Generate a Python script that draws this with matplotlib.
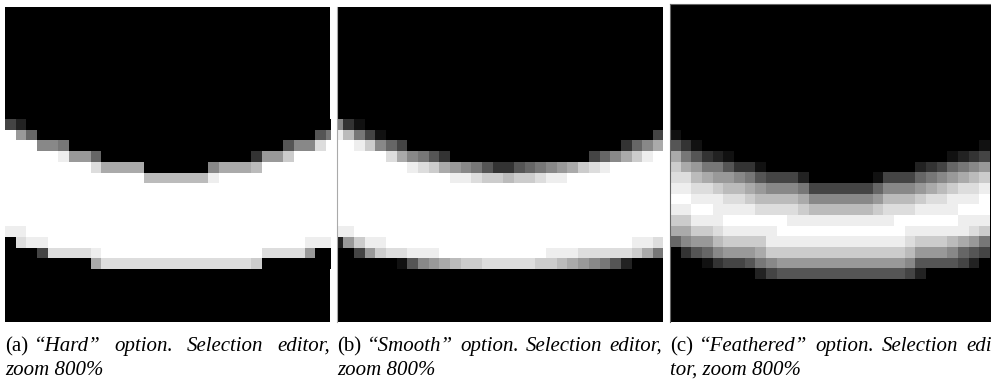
import numpy as np
import matplotlib
matplotlib.use('Agg')
import matplotlib.pyplot as plt

# Figure size in pixels
W, H = 991, 381
# One zoomed image pixel on screen (800% zoom, screenshot scaled)
CELL = 32 / 3
# y of the first row that is not black
ROW0 = 119.33

# Grey levels, one hex digit per pixel (0 = black, f = white).
# Rows above/below are black.
hard_rows = [
    "42" + "0" * 29,
    "f96" + "0" * 26 + "57",
    "fff887" + "0" * 20 + "588df",
    "fffffe996" + "0" * 14 + "399cffff",
    "ffffffffdaaaa0000008aaabfffffff",
    "f" * 13 + "b" * 6 + "e" + "f" * 11,
    "f" * 31,
    "f" * 31,
    "f" * 31,
    "f" * 31,
    "eef" + "f" * 28,
    "0dee" + "f" * 24 + "eee",
    "0004dddde" + "f" * 15 + "dddd900",
    "00000000a" + "d" * 14 + "c" + "0" * 7,
]

smooth_rows = [
    "831" + "0" * 28,
    "eb741" + "0" * 25 + "4",
    "ffec864" + "0" * 20 + "368a",
    "ffff" + "fda8753" + "0" * 13 + "468acef",
    "ffffff" + "fedca98753356789acdef" + "ffff",
    "f" * 10 + "feedccbccdeeff" + "f" * 7,
    "f" * 31,
    "f" * 31,
    "f" * 31,
    "f" * 31,
    "eef" + "f" * 28,
    "29cee" + "f" * 22 + "feed",
    "0049cddeee" + "f" * 10 + "eeedddddca7",
    "000000" + "1589abcc" + "ddddd" + "ccba98752" + "000",
]

feathered_rows = [
    "0" * 30,
    "1" + "0" * 29,
    "531" + "0" * 26 + "1",
    "a75321" + "0" * 20 + "1234",
    "ca9775331" + "0" * 14 + "2346789",
    "ddba998754442" + "000000" + "1444" + "6789abc",
    "eeddcbba98887" + "444444" + "6888" + "9abcdde",
    "ffeeeddcbbbba" + "888888" + "9bbb" + "cddeeef",
    "eeffeeeeddddc" + "bbbbbb" + "cddd" + "eeeefff",
    "cceeeffffffe" + "e" * 9 + "f" * 6 + "eee",
    "aaccdeeeeef" + "f" * 11 + "eeeee" + "edc",
    "6899bcccce" + "e" * 12 + "dcccba97",
    "03568999ac" + "c" * 12 + "b9998654",
    "0001344578" + "9" * 12 + "85555420",
    "0000000024" + "5" * 12 + "42000000",
]

labels = ["(a)", "(b)", "(c)"]
first_lines = [
    ["\u201cHard\u201d", "option.", "Selection", "editor,"],
    ["\u201cSmooth\u201d", "option.", "Selection", "editor,"],
    ["\u201cFeathered\u201d", "option.", "Selection", "edi-"],
]
second_lines = ["zoom 800%", "zoom 800%", "tor, zoom 800%"]

FONT = 'Liberation Serif'
SIZE = 15


def to_grid(rows):
    return np.array([[int(ch, 16) * 17 for ch in r] for r in rows])


def px_text(x, y, s, **kw):
    return fig.text(x / W, 1 - y / H, s, va='baseline', family=FONT,
                    fontsize=SIZE, color='black', **kw)


def justified(label, words, left, right, y, label_gap=6):
    texts = [px_text(left, y, label)]
    texts += [px_text(left, y, w, style='italic') for w in words]
    r = fig.canvas.get_renderer()
    widths = [t.get_window_extent(r).width for t in texts]
    gap = (right - left - sum(widths) - label_gap) / (len(words) - 1)
    x = left
    for i, t in enumerate(texts):
        t.set_x(x / W)
        x += widths[i] + (label_gap if i == 0 else gap)


def panel(left, top, right, bottom, rows, x0, border=None, edges=()):
    ax = fig.add_axes([left / W, 1 - bottom / H,
                       (right - left) / W, (bottom - top) / H])
    ax.set_facecolor('black')
    grid = to_grid(rows)
    nr, nc = grid.shape
    ax.imshow(grid, cmap='gray', vmin=0, vmax=255, interpolation='nearest',
              aspect='auto',
              extent=(x0, x0 + nc * CELL, ROW0 + nr * CELL, ROW0))
    ax.set_xlim(left, right)
    ax.set_ylim(bottom, top)
    ax.set_xticks([])
    ax.set_yticks([])
    for name, sp in ax.spines.items():
        if name in edges:
            sp.set_color(border)
            sp.set_linewidth(0.8)
        else:
            sp.set_visible(False)
    return ax


fig = plt.figure(figsize=(W / 100, H / 100), dpi=100)

panel(5, 6.7, 330, 322, hard_rows, 5)
panel(337, 6.7, 662.7, 322, smooth_rows, 332.67, '#aaaaaa', ('left',))
panel(670, 4, 991, 322, feathered_rows, 670, '#666666', ('left', 'top'))

# Captions: justified first line, ragged second line
LINE1, LINE2 = 351, 375
lefts = [5, 337, 670]
rights = [330, 662, 999]
for i in range(3):
    justified(labels[i], first_lines[i], lefts[i], rights[i], LINE1)
    px_text(lefts[i], LINE2, second_lines[i], style='italic')

fig.savefig('out.png', dpi=100)
